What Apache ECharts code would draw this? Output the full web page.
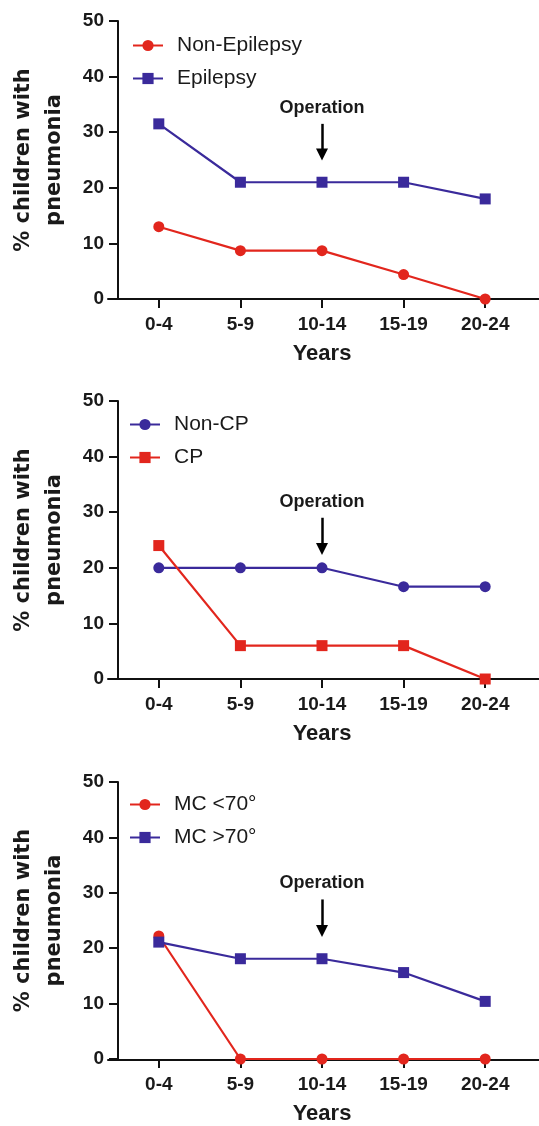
<!DOCTYPE html>
<html>
<head>
<meta charset="utf-8">
<script src="https://cdn.jsdelivr.net/npm/echarts@6/dist/echarts.min.js"></script>
<style>
html,body{margin:0;padding:0;background:#fff;}
#chart{width:539px;height:1126px;}
</style>
</head>
<body>
<div id="chart"></div>
<script>
// ---- data ----
const categories = ['0-4', '5-9', '10-14', '15-19', '20-24'];
const yTicks = [0, 10, 20, 30, 40, 50];

const nonEpilepsy = [13.0, 8.7, 8.7, 4.4, 0];
const epilepsy = [31.5, 21.0, 21.0, 21.0, 18.0];

const nonCP = [20.0, 20.0, 20.0, 16.6, 16.6];
const cp = [24.0, 6.0, 6.0, 6.0, 0];

const mcBelow70 = [22.2, 0, 0, 0, 0];
const mcAbove70 = [21.1, 18.1, 18.1, 15.6, 10.4];

// operation arrow: [top value, tip value] at category '10-14'
const operationCategory = '10-14';
const operationArrow1 = [31.5, 26.0];
const operationArrow2 = [29.0, 23.4];
const operationArrow3 = [28.8, 23.1];

// ---- styling ----
const RED = '#e2261d';
const BLUE = '#3a2a9b';
const BOLD = "'Liberation Sans', Arial, Helvetica, sans-serif";

const panels = [
  { top: 21, legendTop: 35, legendLeft: 132,
    series: [
      { name: 'Non-Epilepsy', data: nonEpilepsy, color: RED, symbol: 'circle' },
      { name: 'Epilepsy', data: epilepsy, color: BLUE, symbol: 'rect' }
    ], arrow: operationArrow1 },
  { top: 401, legendTop: 414, legendLeft: 129,
    series: [
      { name: 'Non-CP', data: nonCP, color: BLUE, symbol: 'circle' },
      { name: 'CP', data: cp, color: RED, symbol: 'rect' }
    ], arrow: operationArrow2 },
  { top: 782, legendTop: 794, legendLeft: 129,
    series: [
      { name: 'MC <70°', data: mcBelow70, color: RED, symbol: 'circle' },
      { name: 'MC >70°', data: mcAbove70, color: BLUE, symbol: 'rect' }
    ], arrow: operationArrow3 }
];

const GRID_LEFT = 118, GRID_W = 408, GRID_H = 278;

const grid = [], xAxis = [], yAxis = [], series = [], legend = [];

panels.forEach((p, i) => {
  grid.push({ left: GRID_LEFT, top: p.top, width: GRID_W, height: GRID_H });
  grid.push({ left: 108, right: 0, top: p.top, height: GRID_H });

  xAxis.push({
    type: 'category', gridIndex: 2 * i, data: categories, boundaryGap: true,
    axisLine: { show: false },
    axisTick: { show: true, alignWithLabel: true, length: 9, lineStyle: { color: '#111', width: 2 } },
    axisLabel: { color: '#1a1a1a', fontFamily: BOLD, fontWeight: 'bold', fontSize: 19, margin: 16 },
    name: 'Years', nameLocation: 'middle', nameGap: 44,
    nameTextStyle: { color: '#1a1a1a', fontFamily: BOLD, fontWeight: 'bold', fontSize: 22 }
  });
  xAxis.push({
    type: 'value', gridIndex: 2 * i + 1, min: 0, max: 1, position: 'bottom',
    axisLine: { show: true, onZero: false, lineStyle: { color: '#111', width: 2 } },
    axisTick: { show: false }, axisLabel: { show: false }, splitLine: { show: false }
  });

  yAxis.push({
    type: 'value', gridIndex: 2 * i, min: yTicks[0], max: yTicks[yTicks.length - 1],
    interval: yTicks[1] - yTicks[0],
    axisLine: { show: true, lineStyle: { color: '#111', width: 2 } },
    axisTick: { show: true, length: 9, lineStyle: { color: '#111', width: 2 } },
    axisLabel: { color: '#1a1a1a', fontFamily: BOLD, fontWeight: 'bold', fontSize: 19, margin: 14 },
    splitLine: { show: false },
    name: '% children with\npneumonia', nameLocation: 'middle', nameGap: 48, nameRotate: 90,
    nameTextStyle: { color: '#1a1a1a', fontFamily: "'DejaVu Sans', sans-serif", fontWeight: 'bold', fontSize: 21, lineHeight: 31 }
  });
  yAxis.push({ type: 'value', gridIndex: 2 * i + 1, min: 0, max: 1, show: false });

  legend.push({
    orient: 'vertical', left: p.legendLeft, top: p.legendTop, padding: 0,
    itemWidth: 30, itemHeight: 14, itemGap: 12,
    data: p.series.map(s => s.name),
    textStyle: { color: '#1a1a1a', fontFamily: BOLD, fontSize: 21, lineHeight: 20, padding: [0, 0, 0, 9] }
  });

  p.series.forEach((s, k) => {
    const ser = {
      type: 'line', name: s.name, data: s.data,
      xAxisIndex: 2 * i, yAxisIndex: 2 * i,
      symbol: s.symbol, symbolSize: 11,
      color: s.color,
      lineStyle: { color: s.color, width: 2.2 },
      itemStyle: { color: s.color },
      z: 2 + k, animation: false
    };
    if (k === 0) {
      ser.markLine = {
        silent: true, animation: false,
        symbol: ['none', 'triangle'], symbolSize: 12,
        lineStyle: { color: '#000', width: 2.5, type: 'solid' },
        label: { show: true, position: 'start', formatter: 'Operation', distance: 7,
                 color: '#1a1a1a', fontFamily: BOLD, fontWeight: 'bold', fontSize: 18 },
        data: [[
          { coord: [operationCategory, p.arrow[0]] },
          { coord: [operationCategory, p.arrow[1]] }
        ]]
      };
    }
    series.push(ser);
  });
});

const chart = echarts.init(document.getElementById('chart'), null, { renderer: 'canvas' });
chart.setOption({
  animation: false,
  backgroundColor: '#fff',
  grid, xAxis, yAxis, legend, series
});
</script>
</body>
</html>
